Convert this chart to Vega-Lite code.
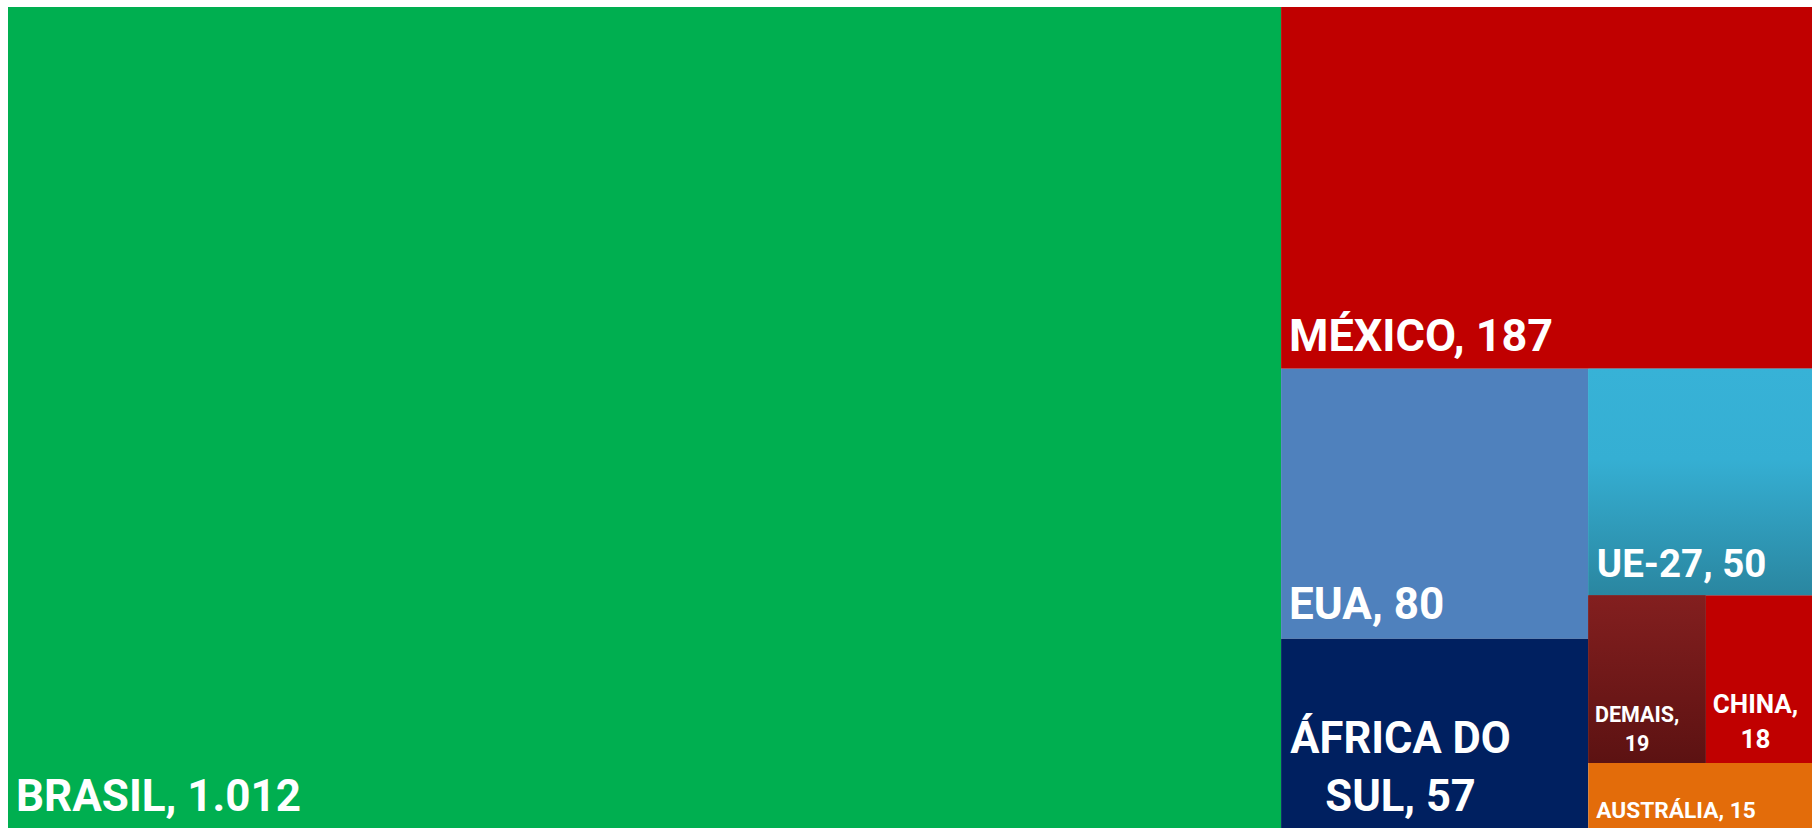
{
  "$schema": "https://vega.github.io/schema/vega-lite/v6.json",
  "width": 1804,
  "height": 821,
  "autosize": {"type": "none"},
  "padding": {"left": 8, "top": 7, "right": 0, "bottom": 0},
  "background": "#ffffff",
  "config": {"view": {"stroke": null}},
  "data": {
    "values": [
      {"pais": "BRASIL", "valor": 1012, "rotulo": "BRASIL, 1.012", "n1": "brasil", "n2": "brasil", "n3": "brasil", "n4": "brasil", "n5": "brasil"},
      {"pais": "MÉXICO", "valor": 187, "rotulo": "MÉXICO, 187", "n1": "resto", "n2": "mexico", "n3": "mexico", "n4": "mexico", "n5": "mexico"},
      {"pais": "EUA", "valor": 80, "rotulo": "EUA, 80", "n1": "resto", "n2": "baixo", "n3": "A", "n4": "eua", "n5": "eua"},
      {"pais": "ÁFRICA DO SUL", "valor": 57, "rotulo": ["ÁFRICA DO", "SUL, 57"], "n1": "resto", "n2": "baixo", "n3": "A", "n4": "africa", "n5": "africa"},
      {"pais": "UE-27", "valor": 50, "rotulo": "UE-27, 50", "n1": "resto", "n2": "baixo", "n3": "C", "n4": "ue", "n5": "ue"},
      {"pais": "DEMAIS", "valor": 19, "rotulo": ["DEMAIS,", "19"], "n1": "resto", "n2": "baixo", "n3": "C", "n4": "meio", "n5": "demais"},
      {"pais": "CHINA", "valor": 18, "rotulo": ["CHINA,", "18"], "n1": "resto", "n2": "baixo", "n3": "C", "n4": "meio", "n5": "china"},
      {"pais": "AUSTRÁLIA", "valor": 15, "rotulo": "AUSTRÁLIA, 15", "n1": "resto", "n2": "baixo", "n3": "C", "n4": "aus", "n5": "aus"}
    ]
  },
  "transform": [
    {"window": [{"op": "row_number", "as": "ordem"}]},
    {"joinaggregate": [{"op": "sum", "field": "valor", "as": "T"}]},

    {"window": [{"op": "sum", "field": "valor", "as": "c1"}], "sort": [{"field": "ordem"}], "frame": [null, 0]},
    {"calculate": "datum.c1 - datum.valor", "as": "a1"},
    {"joinaggregate": [{"op": "sum", "field": "valor", "as": "S1"}, {"op": "min", "field": "a1", "as": "o1"}], "groupby": ["n1"]},

    {"window": [{"op": "sum", "field": "valor", "as": "c2"}], "groupby": ["n1"], "sort": [{"field": "ordem"}], "frame": [null, 0]},
    {"calculate": "datum.c2 - datum.valor", "as": "a2"},
    {"joinaggregate": [{"op": "sum", "field": "valor", "as": "S2"}, {"op": "min", "field": "a2", "as": "o2"}], "groupby": ["n1", "n2"]},

    {"window": [{"op": "sum", "field": "valor", "as": "c3"}], "groupby": ["n1", "n2"], "sort": [{"field": "ordem"}], "frame": [null, 0]},
    {"calculate": "datum.c3 - datum.valor", "as": "a3"},
    {"joinaggregate": [{"op": "sum", "field": "valor", "as": "S3"}, {"op": "min", "field": "a3", "as": "o3"}], "groupby": ["n1", "n2", "n3"]},

    {"window": [{"op": "sum", "field": "valor", "as": "c4"}], "groupby": ["n1", "n2", "n3"], "sort": [{"field": "ordem"}], "frame": [null, 0]},
    {"calculate": "datum.c4 - datum.valor", "as": "a4"},
    {"joinaggregate": [{"op": "sum", "field": "valor", "as": "S4"}, {"op": "min", "field": "a4", "as": "o4"}], "groupby": ["n1", "n2", "n3", "n4"]},

    {"window": [{"op": "sum", "field": "valor", "as": "c5"}], "groupby": ["n1", "n2", "n3", "n4"], "sort": [{"field": "ordem"}], "frame": [null, 0]},
    {"calculate": "datum.c5 - datum.valor", "as": "a5"},
    {"joinaggregate": [{"op": "sum", "field": "valor", "as": "S5"}, {"op": "min", "field": "a5", "as": "o5"}], "groupby": ["n1", "n2", "n3", "n4", "n5"]},

    {"calculate": "datum.o1 / datum.T", "as": "xa"},
    {"calculate": "(datum.o1 + datum.S1) / datum.T", "as": "xb"},
    {"calculate": "datum.o2 / datum.S1", "as": "ya"},
    {"calculate": "(datum.o2 + datum.S2) / datum.S1", "as": "yb"},
    {"calculate": "datum.xa + datum.o3 / datum.S2 * (datum.xb - datum.xa)", "as": "xa3"},
    {"calculate": "datum.xa + (datum.o3 + datum.S3) / datum.S2 * (datum.xb - datum.xa)", "as": "xb3"},
    {"calculate": "datum.ya + datum.o4 / datum.S3 * (datum.yb - datum.ya)", "as": "y0"},
    {"calculate": "datum.ya + (datum.o4 + datum.S4) / datum.S3 * (datum.yb - datum.ya)", "as": "y1"},
    {"calculate": "datum.xa3 + datum.o5 / datum.S4 * (datum.xb3 - datum.xa3)", "as": "x0"},
    {"calculate": "datum.xa3 + (datum.o5 + datum.S5) / datum.S4 * (datum.xb3 - datum.xa3)", "as": "x1"}
  ],
  "layer": [
    {
      "mark": {"type": "rect", "clip": true},
      "encoding": {
        "x": {"field": "x0", "type": "quantitative", "scale": {"domain": [0, 0.99724], "nice": false, "zero": false}, "axis": null},
        "x2": {"field": "x1"},
        "y": {"field": "y0", "type": "quantitative", "scale": {"domain": [0, 0.9964], "reverse": true, "nice": false, "zero": false}, "axis": null},
        "y2": {"field": "y1"},
        "color": {
          "field": "pais", "type": "nominal", "legend": null,
          "scale": {
            "domain": ["BRASIL", "MÉXICO", "EUA", "ÁFRICA DO SUL", "UE-27", "DEMAIS", "CHINA", "AUSTRÁLIA"],
            "range": ["#00AF50", "#C00000", "#4F81BD", "#002060", "#33A8CB", "#701A1A", "#C00000", "#E36C0A"]
          }
        }
      }
    },
    {
      "transform": [{"filter": "datum.pais === 'UE-27'"}],
      "mark": {"type": "rect", "clip": true, "color": {"gradient": "linear", "x1": 0, "y1": 0, "x2": 0, "y2": 1, "stops": [{"offset": 0, "color": "#37B2D7"}, {"offset": 0.4, "color": "#35AFD3"}, {"offset": 1, "color": "#2A86A0"}]}},
      "encoding": {
        "x": {"field": "x0", "type": "quantitative"},
        "x2": {"field": "x1"},
        "y": {"field": "y0", "type": "quantitative"},
        "y2": {"field": "y1"}
      }
    },
    {
      "transform": [{"filter": "datum.pais === 'DEMAIS'"}],
      "mark": {"type": "rect", "clip": true, "color": {"gradient": "linear", "x1": 0, "y1": 0, "x2": 0, "y2": 1, "stops": [{"offset": 0, "color": "#831F1F"}, {"offset": 1, "color": "#5C1212"}]}},
      "encoding": {
        "x": {"field": "x0", "type": "quantitative"},
        "x2": {"field": "x1"},
        "y": {"field": "y0", "type": "quantitative"},
        "y2": {"field": "y1"}
      }
    },
    {
      "transform": [{"filter": "datum.pais === 'BRASIL'"}],
      "mark": {"type": "text", "font": "Roboto", "fontWeight": "bold", "fontSize": 44, "color": "#ffffff", "align": "left", "baseline": "alphabetic", "dx": 8, "dy": -20},
      "encoding": {"x": {"field": "x0", "type": "quantitative"}, "y": {"field": "y1", "type": "quantitative"}, "text": {"field": "rotulo"}}
    },
    {
      "transform": [{"filter": "datum.pais === 'MÉXICO'"}],
      "mark": {"type": "text", "font": "Roboto", "fontWeight": "bold", "fontSize": 45, "color": "#ffffff", "align": "left", "baseline": "alphabetic", "dx": 8, "dy": -18},
      "encoding": {"x": {"field": "x0", "type": "quantitative"}, "y": {"field": "y1", "type": "quantitative"}, "text": {"field": "rotulo"}}
    },
    {
      "transform": [{"filter": "datum.pais === 'EUA'"}],
      "mark": {"type": "text", "font": "Roboto", "fontWeight": "bold", "fontSize": 44, "color": "#ffffff", "align": "left", "baseline": "alphabetic", "dx": 8, "dy": -20},
      "encoding": {"x": {"field": "x0", "type": "quantitative"}, "y": {"field": "y1", "type": "quantitative"}, "text": {"field": "rotulo"}}
    },
    {
      "transform": [{"filter": "datum.pais === 'UE-27'"}],
      "mark": {"type": "text", "font": "Roboto", "fontWeight": "bold", "fontSize": 38.5, "color": "#ffffff", "align": "left", "baseline": "alphabetic", "dx": 8.5, "dy": -18},
      "encoding": {"x": {"field": "x0", "type": "quantitative"}, "y": {"field": "y1", "type": "quantitative"}, "text": {"field": "rotulo"}}
    },
    {
      "transform": [{"filter": "datum.pais === 'ÁFRICA DO SUL'"}],
      "mark": {"type": "text", "font": "Roboto", "fontWeight": "bold", "fontSize": 43.5, "lineHeight": 58, "color": "#ffffff", "align": "center", "baseline": "alphabetic", "dx": 119.5, "dy": -78},
      "encoding": {"x": {"field": "x0", "type": "quantitative"}, "y": {"field": "y1", "type": "quantitative"}, "text": {"field": "rotulo"}}
    },
    {
      "transform": [{"filter": "datum.pais === 'DEMAIS'"}],
      "mark": {"type": "text", "font": "Roboto", "fontWeight": "bold", "fontSize": 21.5, "lineHeight": 28.4, "color": "#ffffff", "align": "center", "baseline": "alphabetic", "dx": 48.8, "dy": -40.7},
      "encoding": {"x": {"field": "x0", "type": "quantitative"}, "y": {"field": "y1", "type": "quantitative"}, "text": {"field": "rotulo"}}
    },
    {
      "transform": [{"filter": "datum.pais === 'CHINA'"}],
      "mark": {"type": "text", "font": "Roboto", "fontWeight": "bold", "fontSize": 26, "lineHeight": 35, "color": "#ffffff", "align": "center", "baseline": "alphabetic", "dx": 49.8, "dy": -49.7},
      "encoding": {"x": {"field": "x0", "type": "quantitative"}, "y": {"field": "y1", "type": "quantitative"}, "text": {"field": "rotulo"}}
    },
    {
      "transform": [{"filter": "datum.pais === 'AUSTRÁLIA'"}],
      "mark": {"type": "text", "font": "Roboto", "fontWeight": "bold", "fontSize": 22.7, "color": "#ffffff", "align": "left", "baseline": "alphabetic", "dx": 8, "dy": -12.7},
      "encoding": {"x": {"field": "x0", "type": "quantitative"}, "y": {"field": "y1", "type": "quantitative"}, "text": {"field": "rotulo"}}
    }
  ]
}
